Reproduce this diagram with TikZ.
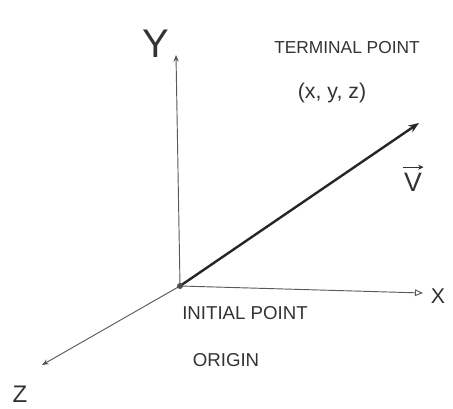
\documentclass[tikz,border=0pt]{standalone}
\usepackage{fontspec}
\setmainfont{Liberation Sans}
\usetikzlibrary{arrows.meta}

\tikzset{
    axis/.style={draw=black!65, line width=0.7pt, -{Stealth[length=5pt,width=4pt]}},
    vec/.style={draw=black!85, line width=1.8pt, -{Stealth[length=8pt,width=6pt]}},
    lbl/.style={text=black!80, inner sep=1pt}
}

\begin{document}
\begin{tikzpicture}[x=0.75pt, y=-0.75pt]
\useasboundingbox (0,0) rectangle (453,409);

% Points
\coordinate (O) at (180,286);
\coordinate (Ytip) at (176,55);
\coordinate (Xtip) at (423,293);
\coordinate (Ztip) at (42,365);
\coordinate (P) at (419,123);

% Axes
\draw[axis] (O) -- (Ytip);
\draw[axis, -{Triangle[open,length=6pt,width=5pt]}] (O) -- (Xtip);
\draw[axis] (O) -- (Ztip);

% Vector
\draw[vec] (O) -- (P);
\fill[black!70] (O) circle (3);

% Axis names
\node[lbl, font=\fontsize{30}{32}\selectfont] (ylbl) at (156,44) {Y};
\node[lbl, font=\fontsize{16}{18}\selectfont] (xlbl) at (438,296) {X};
\node[lbl, font=\fontsize{18}{20}\selectfont] (zlbl) at (20,394) {Z};

% Labels
\node[lbl, font=\fontsize{13}{15}\selectfont] (term) at (347,48) {TERMINAL POINT};
\node[lbl, font=\fontsize{16}{18}\selectfont] (coord) at (332,93) {(x, y, z)};
\node[lbl, font=\fontsize{20}{22}\selectfont] (vlbl) at (413,182) {V};
\draw[black!80, line width=1pt, -{Stealth[length=4pt,width=4pt]}]
    ([yshift=3pt]vlbl.north west) -- ([yshift=3pt]vlbl.north east);
\node[lbl, font=\fontsize{14}{16}\selectfont] (init) at (245,313) {INITIAL POINT};
\node[lbl, font=\fontsize{14}{16}\selectfont] (orig) at (226,360) {ORIGIN};
\end{tikzpicture}
\end{document}
